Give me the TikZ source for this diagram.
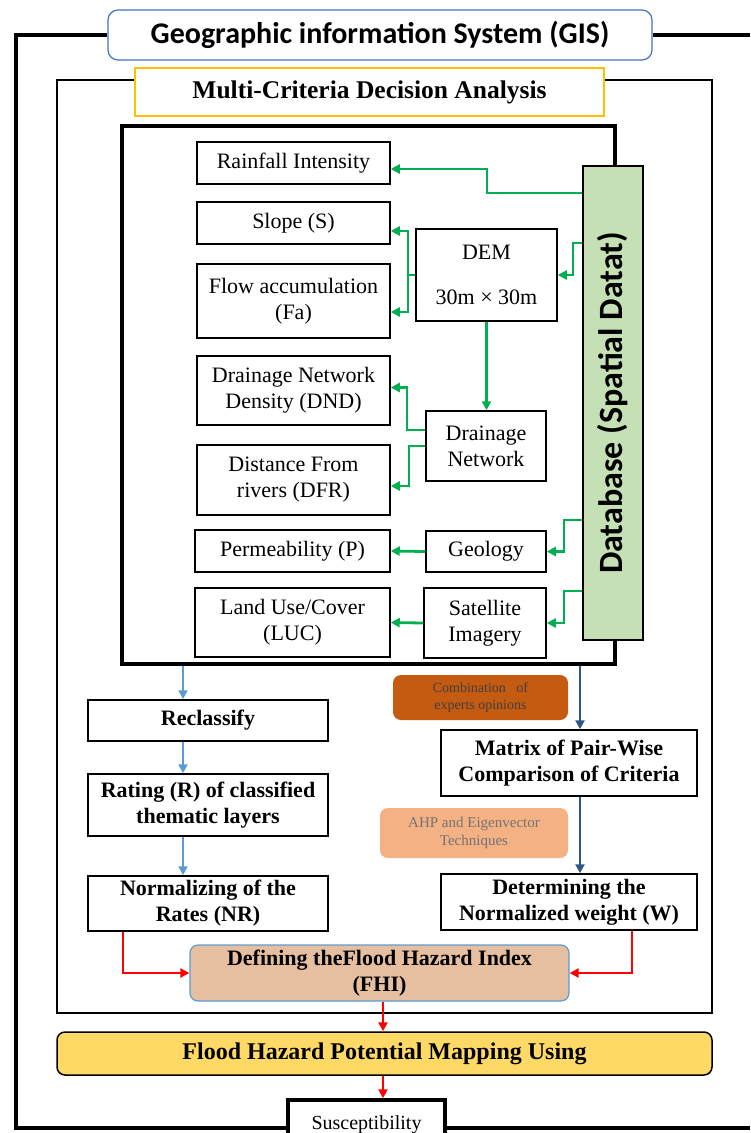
\documentclass[tikz,border=0pt]{standalone}
\usepackage{fontspec}
\setmainfont{Liberation Serif}
\newfontfamily\calibfont{Carlito}
\usetikzlibrary{arrows.meta, calc, positioning}

\definecolor{flowgreen}{HTML}{00B050}
\definecolor{lightblue}{HTML}{5B9BD5}
\definecolor{darkblue}{HTML}{2F5688}
\definecolor{dbgreen}{HTML}{C5E0B4}
\definecolor{combbrown}{HTML}{C55A11}
\definecolor{ahporange}{HTML}{F4B183}
\definecolor{fhitan}{HTML}{E6BFA0}
\definecolor{floodyellow}{HTML}{FFD966}
\definecolor{gisblue}{HTML}{4472C4}
\definecolor{mcdagold}{HTML}{FFC000}

\begin{document}
\begin{tikzpicture}[
  x=1pt, y=-1pt,
  >={Triangle[length=9pt,width=9pt]},
  layer/.style={draw, line width=1.5pt, inner sep=0pt, align=center, font=\fontsize{22}{26}\selectfont},
  stage/.style={draw, line width=1.5pt, inner sep=0pt, align=center, font=\bfseries\fontsize{22}{26}\selectfont},
  hint/.style={rounded corners=8pt, inner sep=0pt, align=center, font=\fontsize{14}{17}\selectfont},
  garrow/.style={->, flowgreen, line width=2.8pt},
  barrow/.style={->, lightblue, line width=2.6pt},
  darrow/.style={->, darkblue, line width=2.6pt},
  rarrow/.style={->, red, line width=2.6pt}
]
\useasboundingbox (0,0) rectangle (750,1133);
\clip (0,0) rectangle (750,1133);

% Frames
\node[draw, line width=1.2pt, minimum width=655pt, minimum height=933pt] (mcdaframe) at (384.5,546.5) {};
\node[draw, line width=3.5pt, minimum width=493pt, minimum height=538pt] (inner) at (368.5,395) {};

% Titles
\node[draw=gisblue, fill=white, line width=1.2pt, rounded corners=10pt, minimum width=544pt, minimum height=50pt,
  font=\calibfont\bfseries\fontsize{30}{33}\selectfont] (gis) at (380,35) {Geographic information System (GIS)};
\node[draw=mcdagold, fill=white, line width=1.4pt, minimum width=469pt, minimum height=48pt,
  font=\bfseries\fontsize{25.5}{28}\selectfont] (mcda) at (369.5,92) {Multi-Criteria Decision Analysis};

% Database
\node[draw, fill=dbgreen, line width=1.5pt, minimum width=60pt, minimum height=474pt] (db) at (613,403) {};
\node[rotate=90, font=\calibfont\bfseries\fontsize{34}{36}\selectfont] (dblabel) at (db.center) {Database (Spatial Datat)};

% Source layers
\node[layer, minimum width=141pt, minimum height=92pt] (dem) at (486.5,275) {DEM\\[19pt]30m × 30m};
\node[layer, minimum width=120pt, minimum height=70pt] (dn) at (486,446) {Drainage\\Network};
\node[layer, minimum width=120pt, minimum height=41pt] (geo) at (486,551.5) {Geology};
\node[layer, minimum width=122pt, minimum height=70pt] (sat) at (485,623) {Satellite\\Imagery};

% Criteria
\node[layer, minimum width=193pt, minimum height=42pt] (rain) at (293.5,163) {Rainfall Intensity};
\node[layer, minimum width=193pt, minimum height=42pt] (slope) at (293.5,223) {Slope (S)};
\node[layer, minimum width=193pt, minimum height=74pt] (flow) at (293.5,301) {Flow accumulation\\(Fa)};
\node[layer, minimum width=193pt, minimum height=69pt] (dnd) at (293.5,390.5) {Drainage Network\\Density (DND)};
\node[layer, minimum width=193pt, minimum height=70pt] (dfr) at (293.5,480) {Distance From\\rivers (DFR)};
\node[layer, minimum width=195pt, minimum height=42pt] (perm) at (292.5,551) {Permeability (P)};
\node[layer, minimum width=195pt, minimum height=69pt] (luc) at (292.5,622.5) {Land Use/Cover\\(LUC)};

% Green connections
\draw[garrow] (db.west |- 0,193) -| (487,180) |- ([yshift=-6pt]rain.east);
\draw[garrow] (db.west |- 0,243) -| (573,260) |- (dem.east);
\draw[garrow] (dem.west) -| (408,250) |- ([yshift=-8pt]slope.east);
\draw[garrow] (dem.west) -| (408,290) |- ([yshift=-11pt]flow.east);
\draw[garrow] (dem.south) -- (dem.south |- dn.north);
\draw[garrow] ([yshift=16pt]dn.west) -| (407,410) |- ([yshift=3pt]dnd.east);
\draw[garrow] (dn.west) -| (409,460) |- ([yshift=-6pt]dfr.east);
\draw[garrow] (db.west |- 0,520) -| (564,540) |- (geo.east);
\draw[garrow] (geo.west) -- (perm.east);
\draw[garrow] (db.west |- 0,591) -| (564,605) |- (sat.east);
\draw[garrow] (sat.west) -- (luc.east);

% Rating branch
\node[stage, minimum width=240pt, minimum height=41pt] (recl) at (208,720.5) {Reclassify};
\node[stage, minimum width=240pt, minimum height=62pt] (rating) at (208,805) {Rating (R) of classified\\thematic layers};
\node[stage, minimum width=240pt, minimum height=55pt] (normr) at (208,903.5) {Normalizing of the\\Rates (NR)};

% Weight branch
\node[hint, fill=combbrown, text=black!75, minimum width=175pt, minimum height=45pt] (comb) at (480.5,697.5) {Combination~~ of\\experts opinions};
\node[stage, minimum width=256pt, minimum height=66pt] (matrix) at (569,763) {Matrix of Pair-Wise\\Comparison of Criteria};
\node[hint, fill=ahporange, text=black!55, minimum width=188pt, minimum height=50pt,
  font=\fontsize{15}{18}\selectfont] (ahp) at (474,833) {AHP and Eigenvector\\Techniques};
\node[stage, minimum width=256pt, minimum height=56pt] (detw) at (569,902) {Determining the\\Normalized weight (W)};

% Index and map
\node[stage, draw=lightblue, fill=fhitan, line width=1.2pt, rounded corners=8pt, minimum width=379pt, minimum height=56pt] (fhi) at (379.5,973) {Defining theFlood Hazard Index\\(FHI)};
\node[stage, fill=floodyellow, rounded corners=8pt, minimum width=655pt, minimum height=43pt,
  font=\bfseries\fontsize{24}{28}\selectfont] (flood) at (384.5,1053.5) {Flood Hazard Potential Mapping Using};
\node[draw, fill=white, line width=3.5pt, minimum width=157pt, minimum height=50pt, inner sep=0pt,
  font=\fontsize{20}{24}\selectfont] (susc) at (366.5,1125) {Susceptibility};

% GIS frame
\draw[line width=3.5pt] (gis.west) -- (16,35) -- (16,1128) -- (susc.west |- 0,1128);
\draw[line width=3.5pt] (susc.east |- 0,1128) -- (750,1128);
\draw[line width=3.5pt] (gis.east) -- (750,35);

% Blue connections
\draw[barrow] (inner.south -| 183,0) -- (recl.north -| 183,0);
\draw[barrow] (recl.south -| 183,0) -- (rating.north -| 183,0);
\draw[barrow] (rating.south -| 183,0) -- (normr.north -| 183,0);
\draw[darrow] (inner.south -| 580,0) -- (matrix.north -| 580,0);
\draw[darrow] (matrix.south -| 580,0) -- (detw.north -| 580,0);

% Red connections
\draw[rarrow] (normr.south -| 123,0) |- (fhi.west);
\draw[rarrow] (detw.south -| 632,0) |- (fhi.east);
\draw[rarrow] (fhi.south -| 383,0) -- (flood.north -| 383,0);
\draw[rarrow] (flood.south -| 383,0) -- (susc.north -| 383,0);

\end{tikzpicture}
\end{document}
